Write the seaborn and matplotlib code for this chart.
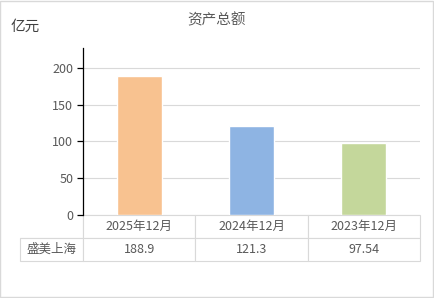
import matplotlib
matplotlib.use("Agg")
import matplotlib.pyplot as plt
import seaborn as sns
import pandas as pd

# Data
periods = ["2025年12月", "2024年12月", "2023年12月"]
values = [188.9, 121.3, 97.54]
value_labels = ["188.9", "121.3", "97.54"]
company = "盛美上海"
colors = ["#F8C290", "#8EB4E3", "#C4D79B"]

sns.set_style("white")
plt.rcParams['font.family'] = ['Noto Sans CJK SC', 'DejaVu Sans']

df = pd.DataFrame({"period": periods, "value": values})

fig = plt.figure(figsize=(4.34, 2.98), dpi=100)
ax = fig.add_axes([83 / 434, 1 - 215 / 298, 337 / 434, 167 / 298])

sns.barplot(data=df, x="period", y="value", hue="period", palette=colors,
            width=0.4, legend=False, ax=ax, saturation=1)

ax.set_ylim(0, 227)
ax.set_xlim(-0.5, 2.5)
ax.set_yticks([0, 50, 100, 150, 200])
ax.grid(axis="y", color="#D9D9D9", linewidth=0.8)
ax.set_axisbelow(True)
for s in ["top", "right", "bottom"]:
    ax.spines[s].set_visible(False)
ax.spines["left"].set_color("black")
ax.spines["left"].set_linewidth(0.9)
ax.tick_params(axis="y", left=True, length=4, width=0.9, color="black",
               labelsize=9, labelcolor="#595959", pad=3)
ax.set_xticks([])
ax.set_xlabel("")
ax.set_ylabel("")

# data table below the axes
cell_text = [[""] + periods, [company] + value_labels]
tbl = ax.table(cellText=cell_text, cellLoc="center",
               colWidths=[63, 112, 112, 112],
               bbox=[-63 / 337, -46 / 167, 400 / 337, 46 / 167])
tbl.auto_set_font_size(False)
for (r, c), cell in tbl.get_celld().items():
    cell.set_edgecolor("#D9D9D9")
    cell.set_linewidth(0.8)
    cell.get_text().set_color("#595959")
    cell.get_text().set_fontsize(9)
    if r == 0 and c == 0:
        cell.visible_edges = "BR"

fig.text(217 / 434, 1 - 20 / 298, "资产总额", ha="center", va="center",
         fontsize=10.5, color="#595959")
fig.text(11 / 434, 1 - 27 / 298, "亿元", ha="left", va="center",
         fontsize=10.5, color="#404040")

# outer frame
fig.patches.append(plt.Rectangle((0.001, 0.002), 0.997, 0.995, transform=fig.transFigure,
                                 fill=False, edgecolor="#D9D9D9", linewidth=1))

fig.savefig("out.png", dpi=100)
